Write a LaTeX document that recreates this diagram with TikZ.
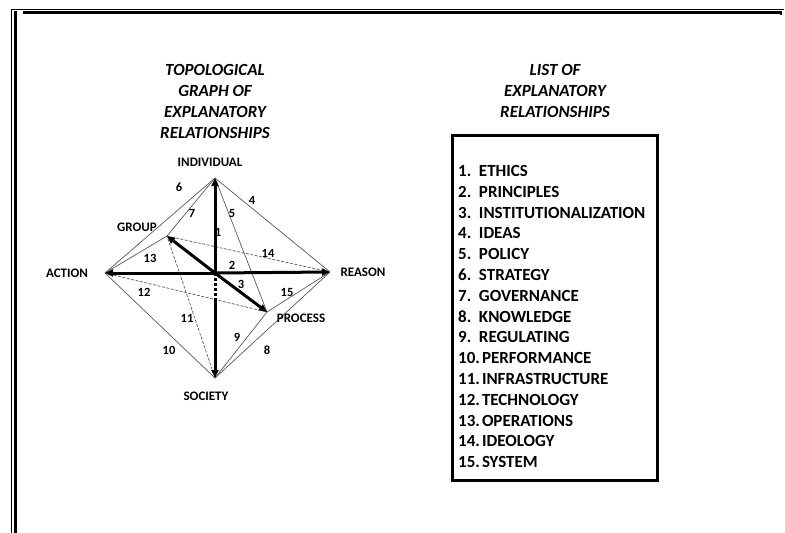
\documentclass[tikz,border=0pt]{standalone}
\usepackage{fontspec}
\setmainfont{Carlito}
\usetikzlibrary{arrows.meta}
\tikzset{
  thinline/.style={draw=black!65, line width=0.7pt},
  thindash/.style={draw=black!65, line width=0.7pt, dash pattern=on 3pt off 1.5pt},
  thickarrow/.style={draw=black, line width=3pt, -{Triangle[length=8pt,width=7pt]}},
  ptlabel/.style={font=\bfseries\fontsize{13}{14}\selectfont, inner sep=0pt},
  numlabel/.style={font=\bfseries\fontsize{12.5}{14}\selectfont, inner sep=0pt},
  titletext/.style={font=\bfseries\itshape\fontsize{17}{21}\selectfont, align=center, inner sep=0pt},
  listitem/.style={font=\bfseries\fontsize{17}{18}\selectfont, anchor=base west, inner sep=0pt},
}
\begin{document}
\begin{tikzpicture}[x=1pt,y=-1pt]
\useasboundingbox (0,0) rectangle (785,533);
% frame
\draw[line width=0.9pt] (11.5,533) -- (11.5,9.5) -- (784,9.5);
\draw[line width=2.3pt] (15.5,533) -- (15.5,11.2);
\draw[line width=2.3pt] (23,12.6) -- (781,12.6) -- (781,15);
% titles
\node[titletext] (t1) at (215,101) {TOPOLOGICAL\\GRAPH OF\\EXPLANATORY\\RELATIONSHIPS};
\node[titletext] (t2) at (555,91) {LIST OF\\EXPLANATORY\\RELATIONSHIPS};
% points
\coordinate (I) at (215,178);
\coordinate (A) at (105,273);
\coordinate (R) at (330,272);
\coordinate (S) at (215,378);
\coordinate (C) at (215,273);
\coordinate (G) at (167,236);
\coordinate (P) at (267,312);
\coordinate (D) at (215,300);
% thin connectors
\draw[thinline] (I) -- (R);
\draw[thinline] (I) -- (P);
\draw[thinline] (I) -- (A);
\draw[thinline] (I) -- (G);
\draw[thinline] (S) -- (R);
\draw[thinline] (S) -- (P);
\draw[thinline] (S) -- (A);
\draw[thindash] (S) -- (G);
\draw[thindash] (A) -- (P);
\draw[thinline] (A) -- (G);
\draw[thindash] (G) -- (R);
\draw[thinline] (P) -- (R);
% thick arrows
\draw[thickarrow] (C) -- (I);
\draw[thickarrow] (C) -- (R);
\draw[thickarrow] (C) -- (A);
\draw[thickarrow] (C) -- (G);
\draw[thickarrow] (C) -- (P);
\draw[line width=3pt, dash pattern=on 3pt off 2pt] (C) -- (D);
\draw[thickarrow] (D) -- (S);
% point labels
\node[ptlabel] (lI) at (210,162) {INDIVIDUAL};
\node[ptlabel] (lA) at (67,273) {ACTION};
\node[ptlabel] (lR) at (363,272) {REASON};
\node[ptlabel] (lS) at (206,396) {SOCIETY};
\node[ptlabel] (lG) at (137,227) {GROUP};
\node[ptlabel] (lP) at (301,318) {PROCESS};
% number labels
\node[numlabel] (n1) at (218,232) {1};
\node[numlabel] (n2) at (232,265) {2};
\node[numlabel] (n3) at (241,284) {3};
\node[numlabel] (n4) at (252,200) {4};
\node[numlabel] (n5) at (232,213) {5};
\node[numlabel] (n6) at (179,187) {6};
\node[numlabel] (n7) at (192,213) {7};
\node[numlabel] (n8) at (267,350) {8};
\node[numlabel] (n9) at (237,337) {9};
\node[numlabel] (n10) at (169,350) {10};
\node[numlabel] (n11) at (187,318) {11};
\node[numlabel] (n12) at (144,292) {12};
\node[numlabel] (n13) at (150,258) {13};
\node[numlabel] (n14) at (268,253) {14};
\node[numlabel] (n15) at (287,292) {15};
% list box
\draw[line width=3pt] (452,135) rectangle (657,480);
\foreach \t [count=\i] in {ETHICS,PRINCIPLES,INSTITUTIONALIZATION,IDEAS,POLICY,STRATEGY,GOVERNANCE,KNOWLEDGE,REGULATING}{
  \node[listitem] (li\i) at (458,{170.8+(\i-1)*20.8+5.6}) {\i.\hspace{0.45em}\t};
}
\foreach \t [count=\j from 10] in {PERFORMANCE,INFRASTRUCTURE,TECHNOLOGY,OPERATIONS,IDEOLOGY,SYSTEM}{
  \node[listitem] (li\j) at (458,{170.8+(\j-1)*20.8+5.6}) {\j.\hspace{0.12em}\t};
}
\end{tikzpicture}
\end{document}
